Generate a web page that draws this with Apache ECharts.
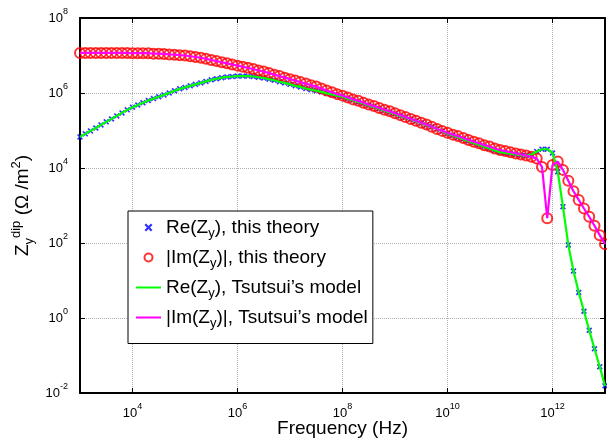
<!DOCTYPE html>
<html>
<head>
<meta charset="utf-8">
<script src="https://cdn.jsdelivr.net/npm/echarts@6/dist/echarts.min.js"></script>
<style>
html,body{margin:0;padding:0;background:#fff;}
#chart{width:607px;height:441px;}
</style>
</head>
<body>
<div id="chart"></div>
<script>
// Frequency samples (Hz), ten per decade
const freq = [
  1e3,1.26e3,1.58e3,2.00e3,2.51e3,3.16e3,3.98e3,5.01e3,6.31e3,7.94e3,
  1e4,1.26e4,1.58e4,2.00e4,2.51e4,3.16e4,3.98e4,5.01e4,6.31e4,7.94e4,
  1e5,1.26e5,1.58e5,2.00e5,2.51e5,3.16e5,3.98e5,5.01e5,6.31e5,7.94e5,
  1e6,1.26e6,1.58e6,2.00e6,2.51e6,3.16e6,3.98e6,5.01e6,6.31e6,7.94e6,
  1e7,1.26e7,1.58e7,2.00e7,2.51e7,3.16e7,3.98e7,5.01e7,6.31e7,7.94e7,
  1e8,1.26e8,1.58e8,2.00e8,2.51e8,3.16e8,3.98e8,5.01e8,6.31e8,7.94e8,
  1e9,1.26e9,1.58e9,2.00e9,2.51e9,3.16e9,3.98e9,5.01e9,6.31e9,7.94e9,
  1e10,1.26e10,1.58e10,2.00e10,2.51e10,3.16e10,3.98e10,5.01e10,6.31e10,7.94e10,
  1e11,1.26e11,1.58e11,2.00e11,2.51e11,3.16e11,3.98e11,5.01e11,6.31e11,7.94e11,
  1e12,1.26e12,1.58e12,2.00e12,2.51e12,3.16e12,3.98e12,5.01e12,6.31e12,7.94e12,
  1e13
];
// Re(Z_y), this theory (Ohm/m^2)
const reTheory = [
  6.76e4,8.13e4,9.77e4,1.17e5,1.41e5,1.70e5,2.04e5,2.45e5,2.95e5,3.55e5,
  4.17e5,4.79e5,5.50e5,6.31e5,7.08e5,7.94e5,8.91e5,1.00e6,1.15e6,1.29e6,
  1.41e6,1.55e6,1.70e6,1.86e6,2.04e6,2.24e6,2.40e6,2.57e6,2.69e6,2.75e6,
  2.82e6,2.82e6,2.82e6,2.75e6,2.63e6,2.51e6,2.34e6,2.19e6,2.00e6,1.86e6,
  1.70e6,1.55e6,1.45e6,1.32e6,1.23e6,1.15e6,1.07e6,9.77e5,9.12e5,8.51e5,
  7.94e5,7.08e5,6.46e5,5.75e5,5.25e5,4.68e5,4.27e5,3.80e5,3.39e5,3.09e5,
  2.75e5,2.45e5,2.24e5,2.00e5,1.78e5,1.58e5,1.41e5,1.26e5,1.10e5,9.55e4,
  8.32e4,7.41e4,6.61e4,5.89e4,5.25e4,4.68e4,4.17e4,3.72e4,3.31e4,2.95e4,
  2.63e4,2.51e4,2.40e4,2.29e4,2.19e4,2.14e4,2.29e4,2.75e4,3.16e4,3.16e4,
  2.51e4,7.94e3,933,89.1,17.8,4.79,1.51,0.468,0.151,0.0501,
  0.0155
];
// |Im(Z_y)|, this theory (Ohm/m^2)
const imTheory = [
  1.17e7,1.17e7,1.17e7,1.17e7,1.17e7,1.17e7,1.17e7,1.17e7,1.17e7,1.17e7,
  1.15e7,1.15e7,1.15e7,1.15e7,1.12e7,1.12e7,1.10e7,1.07e7,1.05e7,1.02e7,
  1.00e7,9.55e6,9.12e6,8.71e6,8.13e6,7.59e6,7.08e6,6.61e6,6.17e6,5.75e6,
  5.37e6,5.01e6,4.68e6,4.37e6,3.98e6,3.72e6,3.39e6,3.09e6,2.82e6,2.57e6,
  2.34e6,2.14e6,1.95e6,1.78e6,1.62e6,1.48e6,1.32e6,1.17e6,1.05e6,9.33e5,
  8.51e5,7.59e5,6.76e5,6.17e5,5.50e5,4.90e5,4.47e5,3.98e5,3.55e5,3.24e5,
  2.88e5,2.57e5,2.29e5,2.04e5,1.82e5,1.62e5,1.45e5,1.26e5,1.10e5,9.77e4,
  8.71e4,7.76e4,7.08e4,6.31e4,5.62e4,5.01e4,4.57e4,4.07e4,3.72e4,3.31e4,
  3.02e4,2.82e4,2.63e4,2.45e4,2.29e4,2.14e4,2.00e4,1.78e4,1.07e4,457,
  1.20e4,1.48e4,8.91e3,4.57e3,2.40e3,1.41e3,832,501,288,162,
  93.3
];
// Tsutsui's model curves coincide with the theory markers
const reModel = reTheory;
const imModel = imTheory;

const xTickValues = [1e4, 1e6, 1e8, 1e10, 1e12];
const yTickValues = [1e-2, 1, 1e2, 1e4, 1e6, 1e8];
const seriesNames = [
  'Re(Zy), this theory',
  '|Im(Zy)|, this theory',
  'Re(Zy), Tsutsui\u2019s model',
  '|Im(Zy)|, Tsutsui\u2019s model'
];

const FONT = '"Liberation Sans", Arial, Helvetica, sans-serif';
const pairs = (xs, ys) => xs.map((x, i) => [x, ys[i]]);
const expLabel = v => '{b|10}{s|' + Math.round(Math.log10(v)) + '}';
const tickRich = {
  b: {fontSize: 13, lineHeight: 22, color: '#000', fontFamily: FONT},
  s: {fontSize: 9, lineHeight: 10, verticalAlign: 'top', color: '#000', fontFamily: FONT}
};
const crossPath = 'path://M0,2L2,0L5,3L8,0L10,2L7,5L10,8L8,10L5,7L2,10L0,8L3,5Z';
const axisLine = {show: true, onZero: false, lineStyle: {color: '#000', width: 2}};
const tickStyle = {show: true, inside: true, length: 5, lineStyle: {color: '#000', width: 1}};
const gridStyle = {show: true, lineStyle: {color: '#b0b0b0', type: 'dotted', width: 1}};
const noIconFill = {color: 'rgba(0,0,0,0)', borderWidth: 0};

const chart = echarts.init(document.getElementById('chart'), null, {renderer: 'canvas'});
chart.setOption({
  animation: false,
  backgroundColor: '#fff',
  textStyle: {fontFamily: FONT},
  grid: {left: 80, right: 2, top: 18, bottom: 48, containLabel: false, outerBoundsMode: 'none'},
  xAxis: [
    {
      type: 'log', logBase: 10, min: 1e3, max: 1e13, position: 'bottom',
      axisLine: axisLine,
      axisTick: Object.assign({customValues: xTickValues}, tickStyle),
      axisLabel: {customValues: xTickValues, margin: 9, formatter: expLabel, rich: tickRich},
      splitLine: gridStyle,
      name: 'Frequency (Hz)', nameLocation: 'middle', nameGap: 26, nameMoveOverlap: false,
      nameTextStyle: {fontSize: 19, color: '#000', fontFamily: FONT}
    },
    {
      type: 'log', logBase: 10, min: 1e3, max: 1e13, position: 'top',
      axisLine: axisLine,
      axisTick: Object.assign({customValues: xTickValues}, tickStyle),
      axisLabel: {show: false},
      splitLine: {show: false}
    }
  ],
  yAxis: [
    {
      type: 'log', logBase: 10, min: 1e-2, max: 1e8, position: 'left',
      axisLine: axisLine,
      axisTick: Object.assign({customValues: yTickValues}, tickStyle),
      axisLabel: {customValues: yTickValues, margin: 12, formatter: expLabel, rich: tickRich},
      splitLine: gridStyle,
      name: '{a|Z}{sub|y}{sup|dip}{a| (\u03A9 /m}{sup|2}{a|)}',
      nameLocation: 'middle', nameGap: 44, nameRotate: 90, nameMoveOverlap: false,
      nameTextStyle: {
        color: '#000',
        rich: {
          a: {fontSize: 19, lineHeight: 26, color: '#000', fontFamily: FONT},
          sub: {fontSize: 13, lineHeight: 6, verticalAlign: 'bottom', color: '#000', fontFamily: FONT},
          sup: {fontSize: 13, lineHeight: 12, verticalAlign: 'top', color: '#000', fontFamily: FONT}
        }
      }
    },
    {
      type: 'log', logBase: 10, min: 1e-2, max: 1e8, position: 'right',
      axisLine: axisLine,
      axisTick: Object.assign({customValues: yTickValues}, tickStyle),
      axisLabel: {show: false},
      splitLine: {show: false}
    }
  ],
  legend: {
    orient: 'vertical', left: 128, top: 211,
    padding: [7, 5, 14, 7], itemGap: 8.5, itemWidth: 25, itemHeight: 8,
    backgroundColor: '#fff', borderColor: '#000', borderWidth: 1, borderRadius: 0,
    data: [
      {name: seriesNames[0]},
      {name: seriesNames[1]},
      {name: seriesNames[2], itemStyle: noIconFill},
      {name: seriesNames[3], itemStyle: noIconFill}
    ],
    formatter: name => '{t|' + name.replace('Zy', 'Z}{s|y}{t|') + '}',
    textStyle: {
      color: '#000',
      rich: {
        t: {fontSize: 19, lineHeight: 24, color: '#000', fontFamily: FONT},
        s: {fontSize: 13, lineHeight: 6, verticalAlign: 'bottom', color: '#000', fontFamily: FONT}
      }
    }
  },
  series: [
    {
      name: seriesNames[0], type: 'scatter', xAxisIndex: 0, yAxisIndex: 0,
      symbol: crossPath, symbolSize: 6,
      itemStyle: {color: '#0000ff'},
      data: pairs(freq, reTheory)
    },
    {
      name: seriesNames[1], type: 'scatter', xAxisIndex: 0, yAxisIndex: 0,
      symbol: 'circle', symbolSize: 10,
      itemStyle: {color: 'rgba(255,255,255,0)', borderColor: '#ff0000', borderWidth: 2},
      data: pairs(freq, imTheory)
    },
    {
      name: seriesNames[2], type: 'line', xAxisIndex: 0, yAxisIndex: 0,
      symbol: 'none', showSymbol: false,
      lineStyle: {color: '#00ff00', width: 2.2}, itemStyle: {color: '#00ff00'},
      data: pairs(freq, reModel)
    },
    {
      name: seriesNames[3], type: 'line', xAxisIndex: 0, yAxisIndex: 0,
      symbol: 'none', showSymbol: false,
      lineStyle: {color: '#ff00ff', width: 2.2}, itemStyle: {color: '#ff00ff'},
      data: pairs(freq, imModel)
    }
  ]
});
</script>
</body>
</html>
